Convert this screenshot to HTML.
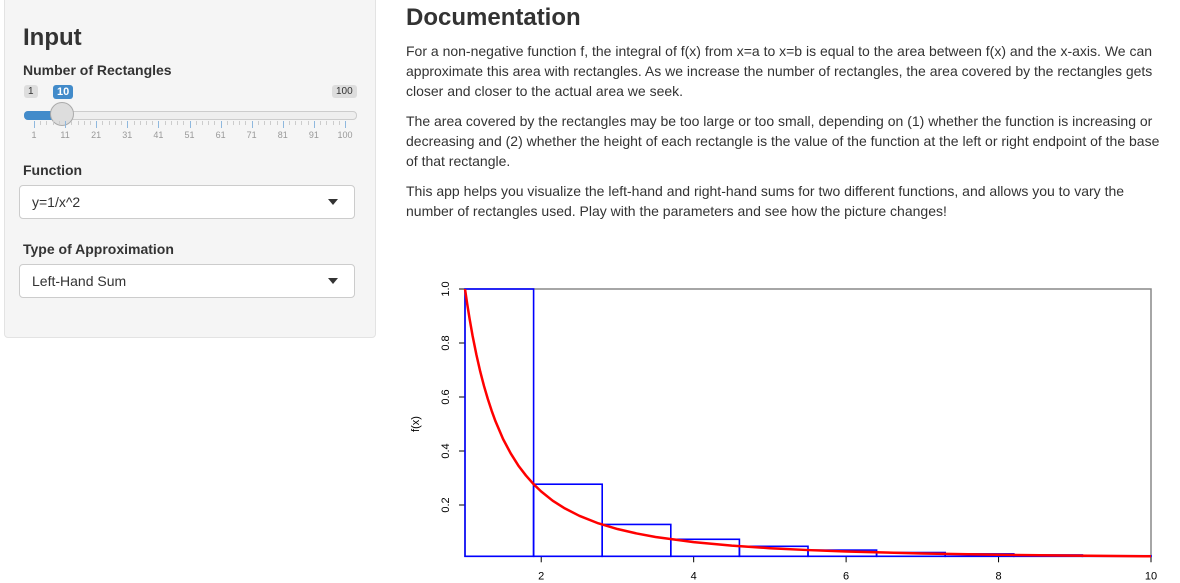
<!DOCTYPE html>
<html><head><meta charset="utf-8"><style>
body{margin:0;width:1180px;height:583px;overflow:hidden;background:#fff;font-family:"Liberation Sans",Arial,sans-serif;color:#333;position:relative}
.abs{position:absolute}
#side{left:4px;top:-10px;width:370px;height:346px;background:#f5f5f5;border:1px solid #e3e3e3;border-radius:4px}
h2{margin:0;font-weight:bold;font-size:24px}
.lbl{font-weight:bold;font-size:14px}
.sel{left:19px;width:334px;height:32px;background:#fff;border:1px solid #ccc;border-radius:4px;font-size:14px;line-height:32px;text-indent:12px}
.sel:after{content:"";position:absolute;right:16px;top:13px;border:5px solid transparent;border-top:6px solid #333}
#doc{left:406px;top:4px;width:768px}
#doc p{margin:0 0 10px;font-size:14px;line-height:20px}
.tick{font-size:9px;color:#999}
</style></head><body>
<div id="side" class="abs"></div>
<h2 class="abs" style="left:23px;top:24px">Input</h2>
<div class="abs lbl" style="left:23px;top:62px">Number of Rectangles</div>
<div class="abs" style="left:24px;top:85px;font-size:10px;background:#ddd;border-radius:3px;padding:1px 4px">1</div>
<div class="abs" style="left:332px;top:85px;font-size:10px;background:#ddd;border-radius:3px;padding:1px 4px">100</div>
<div class="abs" style="left:53px;top:85px;font-size:11px;font-weight:bold;color:#fff;background:#428bca;border-radius:3px;padding:1px 4px">10</div>
<div class="abs" style="left:24px;top:111px;width:331px;height:7px;background:#eee;border:1px solid #ccc;border-radius:4px"></div>
<div class="abs" style="left:24px;top:111px;width:40px;height:9px;background:#428bca;border-radius:4px 0 0 4px"></div>
<div class="abs" style="left:50px;top:102px;width:22px;height:22px;background:#ddd;border:1px solid #aaa;border-radius:50%"></div>
<div id="grid"></div>
<div class="abs lbl" style="left:23px;top:162px">Function</div>
<div class="abs sel" style="top:185px">y=1/x^2</div>
<div class="abs lbl" style="left:23px;top:241px">Type of Approximation</div>
<div class="abs sel" style="top:264px">Left-Hand Sum</div>
<div id="doc" class="abs">
<h2 style="margin-bottom:9px">Documentation</h2>
<p>For a non-negative function f, the integral of f(x) from x=a to x=b is equal to the area between f(x) and the x-axis. We can approximate this area with rectangles. As we increase the number of rectangles, the area covered by the rectangles gets closer and closer to the actual area we seek.</p>
<p>The area covered by the rectangles may be too large or too small, depending on (1) whether the function is increasing or decreasing and (2) whether the height of each rectangle is the value of the function at the left or right endpoint of the base of that rectangle.</p>
<p>This app helps you visualize the left-hand and right-hand sums for two different functions, and allows you to vary the number of rectangles used. Play with the parameters and see how the picture changes!</p>
</div>
<svg class="abs" style="left:0;top:0" width="1180" height="583" id="chart"></svg>
<script>
const gridLabels=[1,11,21,31,41,51,61,71,81,91,100];
const g=document.getElementById('grid');
gridLabels.forEach((v,i)=>{
  const x=34+i*31.1;
  const d=document.createElement('div');d.className='abs tick';
  
  
  d.style.left=(x-12)+'px';d.style.top='130px';d.style.width='24px';d.style.textAlign='center';d.textContent=v;g.appendChild(d);
  for(let k=0;k<(i<10?5:1);k++){
    const t=document.createElement('div');t.className='abs';
    
    
    t.style.left=(x+k*6.2)+'px';t.style.top='121px';t.style.width='1px';t.style.height=k?'4px':'7px';t.style.background=k?'#ccc':'#8fb8de';g.appendChild(t);
  }
});

const curveX=[1,1.03,1.06,1.1,1.15,1.2,1.25,1.3,1.35,1.4,1.5,1.6,1.7,1.8,1.9,2,2.15,2.3,2.5,2.75,3,3.25,3.5,4,4.5,5,5.5,6,7,8,9,10];
const curveY=[1,0.943,0.89,0.826,0.756,0.694,0.64,0.592,0.549,0.510,0.444,0.391,0.346,0.309,0.277,0.25,0.216,0.189,0.16,0.132,0.111,0.0947,0.0816,0.0625,0.0494,0.04,0.0331,0.0278,0.0204,0.0156,0.0123,0.01];
const rectLeft=[1,1.9,2.8,3.7,4.6,5.5,6.4,7.3,8.2,9.1];
const rectHeight=[1,0.277,0.128,0.073,0.047,0.033,0.024,0.019,0.015,0.012];
const rectWidth=0.9;
const xTicks=[2,4,6,8,10];
const yTicks=[0.2,0.4,0.6,0.8,1.0];
const yTickLabels=["0.2","0.4","0.6","0.8","1.0"];

const X=v=>465+(v-1)*686/9;
const Y=v=>559-v*270;
const svg=document.getElementById('chart');
const NS='http://www.w3.org/2000/svg';
function mk(tag,attrs){const e=document.createElementNS(NS,tag);for(const k in attrs)e.setAttribute(k,attrs[k]);svg.appendChild(e);return e;}
let e;
e=mk('rect',{x:X(1),y:Y(1),width:X(10)-X(1),height:Y(0.01)-Y(1),fill:'none',stroke:'#888','stroke-width':1.5});


e=mk('line',{x1:X(1),y1:Y(0.01),x2:X(10),y2:Y(0.01),stroke:'#000','stroke-width':1});


e=mk('line',{x1:X(1),y1:Y(0.01),x2:X(1),y2:Y(1),stroke:'#000','stroke-width':1});


xTicks.forEach(v=>{
  e=mk('line',{x1:X(v),y1:Y(0.01),x2:X(v),y2:Y(0.01)+6,stroke:'#000'});
  
  
  e=mk('text',{x:X(v),y:Y(0.01)+23,'font-size':11,'text-anchor':'middle','font-family':'Liberation Sans'});e.textContent=v;
  
  
});
yTicks.forEach((v,i)=>{
  e=mk('line',{x1:X(1)-6,y1:Y(v),x2:X(1),y2:Y(v),stroke:'#000'});
  
  
  e=mk('text',{x:0,y:0,'font-size':11,'text-anchor':'middle','font-family':'Liberation Sans',transform:`translate(${X(1)-16},${Y(v)}) rotate(-90)`});e.textContent=yTickLabels[i];
  
  
});
e=mk('text',{x:0,y:0,'font-size':11,'text-anchor':'middle','font-family':'Liberation Sans',transform:`translate(419,${Y(0.5)}) rotate(-90)`});e.textContent='f(x)';


rectLeft.forEach((l,i)=>{
  e=mk('rect',{x:X(l),y:Y(rectHeight[i]),width:X(l+rectWidth)-X(l),height:Y(0.01)-Y(rectHeight[i]),fill:'none',stroke:'#0000ff','stroke-width':1.6});
  
  
});
e=mk('polyline',{points:curveX.map((x,i)=>X(x)+','+Y(curveY[i])).join(' '),fill:'none',stroke:'#ff0000','stroke-width':2.5,'stroke-linejoin':'round'});


</script>
</body></html>
